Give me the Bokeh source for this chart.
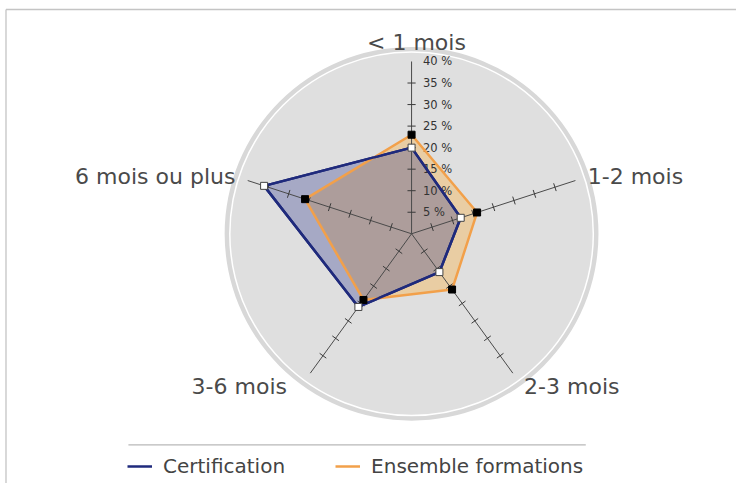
import numpy as np
from bokeh.plotting import figure
from bokeh.models import Range1d, Legend, LegendItem
from bokeh.core.properties import value
from bokeh.embed import file_html
from bokeh.resources import INLINE

categories = ["< 1 mois", "1-2 mois", "2-3 mois", "3-6 mois", "6 mois ou plus"]
certification = [20, 12, 11, 21, 36]
ensemble = [23, 16, 16, 19, 26]
tick_values = [5, 10, 15, 20, 25, 30, 35, 40]
tick_labels = ["5 %", "10 %", "15 %", "20 %", "25 %", "30 %", "35 %", "40 %"]
rmax = 40

FONT = "DejaVu Sans"
NAVY = "#1f2a7c"
ORANGE = "#f2a04a"

W, H = 736, 483
KX, KY = W / 752, H / 499
S = 4.425 * (KX + KY) / 2          # px per percent unit
CX, CY = 420 * KX, 241 * KY         # chart centre in plot px

def D(px, py):
    return (px - CX) / S, (CY - py) / S

def R(xr, yr):
    return D(xr * KX, yr * KY)

p = figure(width=W, height=H, output_backend="svg", toolbar_location=None,
           x_range=Range1d(-CX / S, (W - CX) / S),
           y_range=Range1d(-(H - CY) / S, CY / S),
           min_border=0)
p.axis.visible = False
p.grid.visible = False
p.outline_line_color = None
p.background_fill_color = "white"
p.border_fill_color = "white"

n = len(categories)
ang = np.pi / 2 - np.arange(n) * 2 * np.pi / n

def pol(r, a):
    return np.asarray(r, dtype=float) * np.cos(a), np.asarray(r, dtype=float) * np.sin(a)

# frame border (top & left)
bl_x, bt_y = D(5.5, 9)
br_x, bb_y = D(W, H)
p.segment(x0=[bl_x, bl_x], y0=[bt_y, bt_y], x1=[br_x, bl_x], y1=[bt_y, bb_y],
          line_color="#c4c4c4", line_width=1.3)

# background disk
p.circle(x=[0], y=[0], radius=43.4, fill_color="#d8d8d8", line_color=None)
p.circle(x=[0], y=[0], radius=42.2, fill_color="#dfdfdf", line_color="white", line_width=1.5)

# patches
ex, ey = pol(ensemble, ang)
cx_, cy_ = pol(certification, ang)
p.patch(list(ex), list(ey), fill_color="#f7b75a", fill_alpha=0.45, line_color=None)
p.patch(list(cx_), list(cy_), fill_color="#26308a", fill_alpha=0.3, line_color=None)

# axes
ax_x, ax_y = pol(rmax, ang)
p.segment(x0=[0] * n, y0=[0] * n, x1=list(ax_x), y1=list(ax_y), line_color="#4a4a4a", line_width=1)
tx0, ty0, tx1, ty1 = [], [], [], []
half = 0.95
for a in ang:
    for t in tick_values[:-1]:
        bx, by = t * np.cos(a), t * np.sin(a)
        px_, py_ = -np.sin(a) * half, np.cos(a) * half
        tx0.append(bx - px_); ty0.append(by - py_)
        tx1.append(bx + px_); ty1.append(by + py_)
p.segment(x0=tx0, y0=ty0, x1=tx1, y1=ty1, line_color="#3a3a3a", line_width=1)

# tick labels on top axis
p.text(x=[11.4 / S] * len(tick_values), y=tick_values, text=tick_labels,
       text_font=value(FONT), text_font_size="11.5px", text_color="#333333",
       text_align="left", text_baseline="middle")

# outlines
lc = p.line(list(cx_) + [cx_[0]], list(cy_) + [cy_[0]], line_color=NAVY, line_width=2.5)
le = p.line(list(ex) + [ex[0]], list(ey) + [ey[0]], line_color=ORANGE, line_width=2.5)
p.line(list(cx_) + [cx_[0]], list(cy_) + [cy_[0]], line_color=NAVY, line_width=2.5)

# markers
p.scatter(list(ex), list(ey), marker="square", size=7, fill_color="black", line_color="black")
p.scatter(list(cx_), list(cy_), marker="square", size=7, fill_color="white", line_color="#444444", line_width=1)

# category labels (anchor positions taken from reference page pixels)
anchors = [(425, 43.5, "center"), (600, 181.5, "left"), (535, 399, "left"),
           (292.7, 399, "right"), (240, 181.5, "right")]
for cat, (xr, yr, al) in zip(categories, anchors):
    x, y = R(xr, yr)
    p.text(x=[x], y=[y], text=[cat],
           text_font=value(FONT), text_font_size="22px", text_color="#4a4a4a",
           text_align=al, text_baseline="middle")

# legend separator
s0x, sy = R(130.7, 459)
s1x, _ = R(598, 459)
p.segment(x0=[s0x], y0=[sy], x1=[s1x], y1=[sy], line_color="#b8b8b8", line_width=1.2)

legend = Legend(items=[LegendItem(label="Certification", renderers=[lc]),
                       LegendItem(label="Ensemble formations", renderers=[le])],
                location=(127, 5), orientation="horizontal",
                label_text_font=FONT, label_text_font_size="20px", label_text_color="#444444",
                glyph_width=25, glyph_height=20, label_standoff=11, spacing=50,
                padding=0, margin=0, background_fill_alpha=0, border_line_color=None)
p.add_layout(legend, "center")

open("out.html", "w").write(file_html(p, INLINE))
